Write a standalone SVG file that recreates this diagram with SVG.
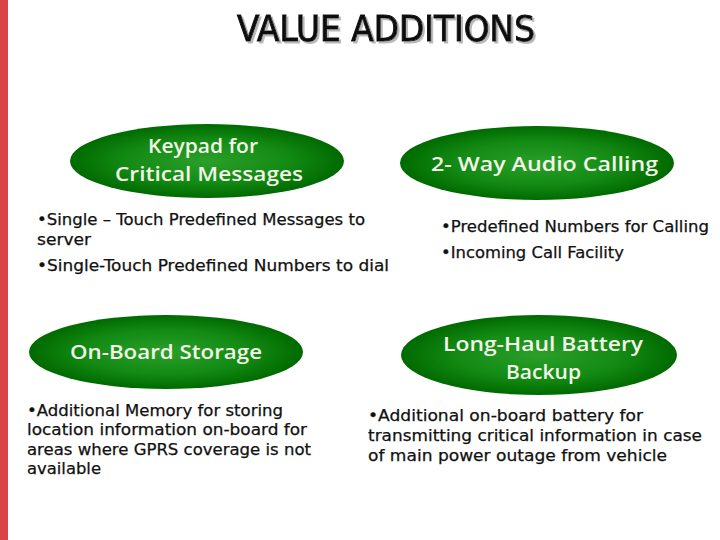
<svg xmlns="http://www.w3.org/2000/svg" width="720" height="540" viewBox="0 0 720 540">
<style>
.title{font-family:"DejaVu Sans Condensed","DejaVu Sans",sans-serif;font-weight:normal;font-size:35px;fill:#111;stroke:#111;stroke-width:0.9px}
.lbl{font-family:"Open Sans","DejaVu Sans",sans-serif;font-weight:600;font-size:20px;fill:#f2f5e8}
.body{font-family:"DejaVu Sans",sans-serif;font-size:15.5px;fill:#111;stroke:#111;stroke-width:0.25px}
</style>
<defs>
<radialGradient id="g" cx="50%" cy="50%" r="50%">
<stop offset="0" stop-color="#2aa02a"/>
<stop offset="0.6" stop-color="#138a13"/>
<stop offset="1" stop-color="#006a00"/>
</radialGradient>
<filter id="ts" x="-5%" y="-20%" width="110%" height="140%">
<feDropShadow dx="2" dy="2" stdDeviation="0.5" flood-color="#b8b8b8" flood-opacity="1"/>
</filter>
</defs>
<rect x="0" y="0" width="8" height="540" fill="#d94447"/>
<g id="title">
<text class="title" x="237" y="41" textLength="298" lengthAdjust="spacingAndGlyphs" filter="url(#ts)">VALUE ADDITIONS</text>
</g>
<g id="keypad">
<ellipse cx="207" cy="161" rx="137" ry="37" fill="url(#g)"/>
<text class="lbl" x="148" y="153" textLength="110" lengthAdjust="spacingAndGlyphs">Keypad for</text>
<text class="lbl" x="115" y="181" textLength="188" lengthAdjust="spacingAndGlyphs">Critical Messages</text>
<text class="body" x="37" y="225" textLength="328" lengthAdjust="spacingAndGlyphs">•Single – Touch Predefined Messages to</text>
<text class="body" x="37" y="245" textLength="54" lengthAdjust="spacingAndGlyphs">server</text>
<text class="body" x="37" y="271" textLength="352" lengthAdjust="spacingAndGlyphs">•Single-Touch Predefined Numbers to dial</text>
</g>
<g id="audio">
<ellipse cx="537" cy="163" rx="137" ry="37" fill="url(#g)"/>
<text class="lbl" x="431" y="171" textLength="227" lengthAdjust="spacingAndGlyphs">2- Way Audio Calling</text>
<text class="body" x="441" y="232" textLength="268" lengthAdjust="spacingAndGlyphs">•Predefined Numbers for Calling</text>
<text class="body" x="441" y="258" textLength="183" lengthAdjust="spacingAndGlyphs">•Incoming Call Facility</text>
</g>
<g id="storage">
<ellipse cx="166" cy="352" rx="137" ry="37" fill="url(#g)"/>
<text class="lbl" x="70" y="359" textLength="192" lengthAdjust="spacingAndGlyphs">On-Board Storage</text>
<text class="body" x="27" y="416" textLength="256" lengthAdjust="spacingAndGlyphs">•Additional Memory for storing</text>
<text class="body" x="27" y="435" textLength="280" lengthAdjust="spacingAndGlyphs">location information on-board for</text>
<text class="body" x="27" y="455" textLength="284" lengthAdjust="spacingAndGlyphs">areas where GPRS coverage is not</text>
<text class="body" x="27" y="474" textLength="74" lengthAdjust="spacingAndGlyphs">available</text>
</g>
<g id="battery">
<ellipse cx="539" cy="355" rx="138" ry="40" fill="url(#g)"/>
<text class="lbl" x="443" y="351" textLength="200" lengthAdjust="spacingAndGlyphs">Long-Haul Battery</text>
<text class="lbl" x="506" y="379" textLength="75" lengthAdjust="spacingAndGlyphs">Backup</text>
<text class="body" x="368" y="421" textLength="275" lengthAdjust="spacingAndGlyphs">•Additional on-board battery for</text>
<text class="body" x="368" y="441" textLength="334" lengthAdjust="spacingAndGlyphs">transmitting critical information in case</text>
<text class="body" x="368" y="461" textLength="299" lengthAdjust="spacingAndGlyphs">of main power outage from vehicle</text>
</g>
<g id="connectors"/>
</svg>
